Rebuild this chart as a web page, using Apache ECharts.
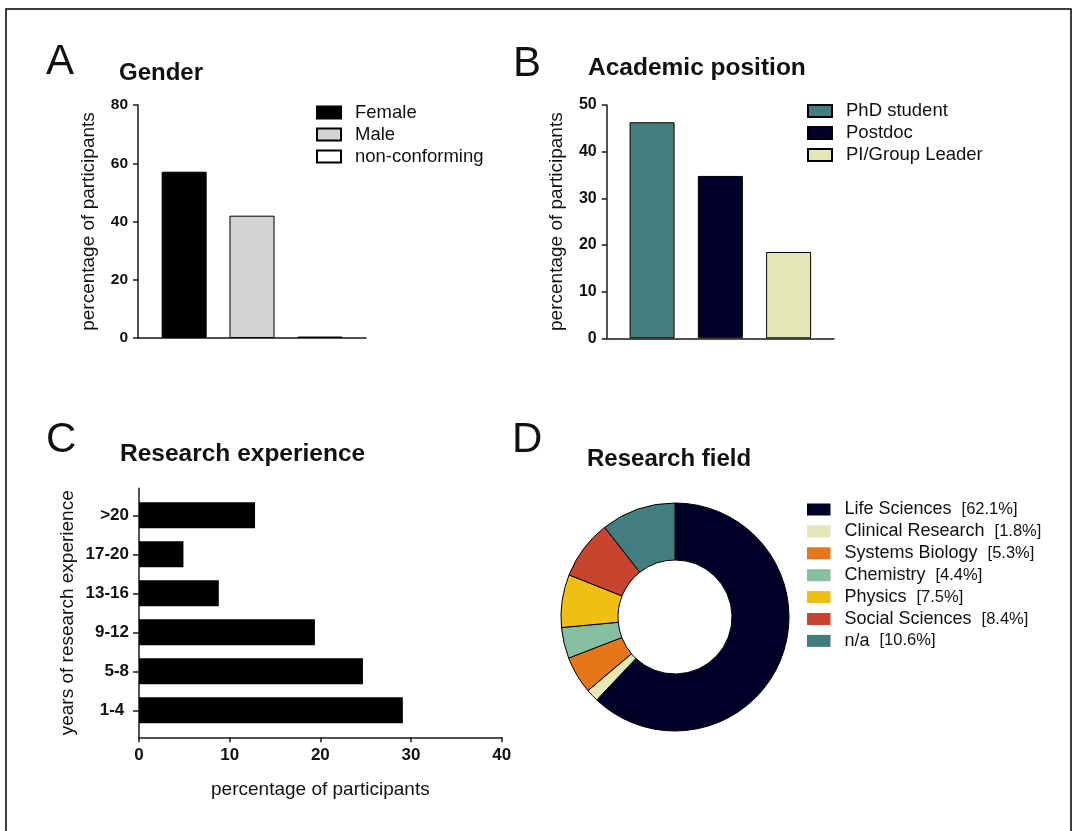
<!DOCTYPE html>
<html>
<head>
<meta charset="utf-8">
<script src="https://cdn.jsdelivr.net/npm/echarts@6/dist/echarts.min.js"></script>
<style>
  html, body { margin: 0; padding: 0; background: #fff; }
  #chart { width: 1078px; height: 831px; }
</style>
</head>
<body>
<div id="chart"></div>
<script>
const FONT = '"Liberation Sans", Arial, Helvetica, sans-serif';
const INK = '#1a1a1a';

// A: gender of participants (%)
const genderNames = ['Female', 'Male', 'non-conforming'];
const genderValues = [57.1, 42.0, 0.5];
const genderColors = ['#000000', '#d3d3d3', '#ffffff'];

// B: academic position (%)
const positionNames = ['PhD student', 'Postdoc', 'PI/Group Leader'];
const positionValues = [46.3, 34.8, 18.5];
const positionColors = ['#427e7d', '#000028', '#e5e7b8'];

// C: years of research experience (%), listed bottom to top
const experienceLabels = ['1-4 ', '5-8', '9-12', '13-16', '17-20', '>20'];
const experienceValues = [29.1, 24.7, 19.4, 8.8, 4.9, 12.8];

// D: research field (%)
const fieldNames = ['Life Sciences', 'Clinical Research', 'Systems Biology', 'Chemistry', 'Physics', 'Social Sciences', 'n/a'];
const fieldValues = [62.1, 1.8, 5.3, 4.4, 7.5, 8.4, 10.6];
const fieldColors = ['#000028', '#e5e7b8', '#e5761a', '#85bea0', '#f0bf14', '#c7442f', '#427e7d'];

const axisLineStyle = { color: INK, width: 1.5 };
const tickLabel = (size) => ({ color: '#111', fontFamily: FONT, fontWeight: 'bold', fontSize: size });
const nameStyle = { color: '#111', fontFamily: FONT, fontSize: 19 };

function barSeries(names, values, colors, axisIdx) {
  return names.map((n, i) => ({
    type: 'bar',
    name: n,
    xAxisIndex: axisIdx,
    yAxisIndex: axisIdx,
    data: [[i + 1, values[i]]],
    barWidth: 45,
    barGap: '-100%',
    itemStyle: { color: colors[i], borderColor: '#000', borderWidth: 1 },
    emphasis: { disabled: true },
    silent: true
  }));
}

function panelText(text, x, y, size, weight) {
  return {
    type: 'text', x: x, y: y, silent: true,
    style: { text: text, fill: '#111', fontFamily: FONT, fontSize: size, fontWeight: weight, verticalAlign: 'middle' }
  };
}

const legendBase = {
  orient: 'vertical',
  selectedMode: false,
  padding: 0,
  itemWidth: 24,
  itemHeight: 12,
  itemGap: 3,
  icon: 'rect',
  textStyle: { fontFamily: FONT, fontSize: 18.5, color: '#111', padding: [0, 0, 0, 9] }
};

const option = {
  animation: false,
  backgroundColor: '#fff',
  graphic: [
    { type: 'rect', silent: true, z: -10, shape: { x: 6, y: 9, width: 1065, height: 900 },
      style: { fill: 'none', stroke: '#000', lineWidth: 1.5 } },
    panelText('A', 46, 62, 42, 'normal'),
    panelText('Gender', 119, 73, 24, 'bold'),
    panelText('B', 513, 64, 42, 'normal'),
    panelText('Academic position', 588, 68, 24.5, 'bold'),
    panelText('C', 46, 440, 42, 'normal'),
    panelText('Research experience', 120, 454, 24.5, 'bold'),
    panelText('D', 512, 440, 42, 'normal'),
    panelText('Research field', 587, 459, 24, 'bold')
  ],
  legend: [
    Object.assign({}, legendBase, { left: 316, top: 103, data: genderNames }),
    Object.assign({}, legendBase, { left: 807, top: 101.5, data: positionNames }),
    Object.assign({}, legendBase, {
      left: 807, top: 500.5, itemWidth: 23.5, itemGap: 3.9, data: fieldNames,
      itemStyle: { borderWidth: 0 },
      formatter: (name) => {
        const i = fieldNames.indexOf(name);
        return name + '  {p|[' + fieldValues[i] + '%]}';
      },
      textStyle: Object.assign({}, legendBase.textStyle, {
        fontSize: 18,
        rich: { p: { fontFamily: FONT, fontSize: 16.5, color: '#111' } }
      })
    })
  ],
  grid: [
    { left: 138, top: 105, width: 228, height: 233 },
    { left: 606.7, top: 105, width: 227.3, height: 233.3 },
    { left: 139, top: 495.8, width: 362.7, height: 234 },
    { left: 139, top: 488.3, width: 362.7, height: 249 }
  ],
  xAxis: [
    { gridIndex: 0, type: 'value', min: 0.32, max: 3.68,
      axisLine: { show: true, onZero: false, lineStyle: axisLineStyle },
      axisTick: { show: false }, axisLabel: { show: false }, splitLine: { show: false } },
    { gridIndex: 1, type: 'value', min: 0.335, max: 3.665,
      axisLine: { show: true, onZero: false, lineStyle: axisLineStyle },
      axisTick: { show: false }, axisLabel: { show: false }, splitLine: { show: false } },
    { gridIndex: 2, type: 'value', min: 0, max: 40, interval: 10, offset: 7.5,
      axisLine: { show: true, onZero: false, lineStyle: axisLineStyle },
      axisTick: { show: true, length: 5, lineStyle: axisLineStyle },
      axisLabel: Object.assign({ margin: 10 }, tickLabel(17)),
      splitLine: { show: false },
      name: 'percentage of participants', nameLocation: 'middle', nameGap: 43, nameTextStyle: nameStyle },
    { gridIndex: 3, type: 'value', show: false, min: 0, max: 1 }
  ],
  yAxis: [
    { gridIndex: 0, type: 'value', min: 0, max: 80, interval: 20,
      axisLine: { show: true, onZero: false, lineStyle: axisLineStyle },
      axisTick: { show: true, length: 5, lineStyle: axisLineStyle },
      axisLabel: Object.assign({ margin: 10 }, tickLabel(15.5)),
      splitLine: { show: false },
      name: 'percentage of participants', nameLocation: 'middle', nameGap: 40, nameTextStyle: nameStyle },
    { gridIndex: 1, type: 'value', min: 0, max: 50, interval: 10,
      axisLine: { show: true, onZero: false, lineStyle: axisLineStyle },
      axisTick: { show: true, length: 5, lineStyle: axisLineStyle },
      axisLabel: Object.assign({ margin: 10 }, tickLabel(16)),
      splitLine: { show: false },
      name: 'percentage of participants', nameLocation: 'middle', nameGap: 40, nameTextStyle: nameStyle },
    { gridIndex: 2, type: 'category', data: experienceLabels,
      axisLine: { show: false },
      axisTick: { show: true, alignWithLabel: true, length: 6, lineStyle: axisLineStyle },
      axisLabel: Object.assign({ margin: 10 }, tickLabel(17)),
      splitLine: { show: false } },
    { gridIndex: 3, type: 'value', min: 0, max: 1,
      axisLine: { show: true, onZero: false, lineStyle: axisLineStyle },
      axisTick: { show: false }, axisLabel: { show: false }, splitLine: { show: false },
      name: 'years of research experience', nameLocation: 'middle', nameGap: 62, nameTextStyle: nameStyle }
  ],
  series: [
    ...barSeries(genderNames, genderValues, genderColors, 0),
    ...barSeries(positionNames, positionValues, positionColors, 1),
    {
      type: 'bar', name: 'Research experience', xAxisIndex: 2, yAxisIndex: 2,
      data: experienceValues, barWidth: 26,
      itemStyle: { color: '#000' }, emphasis: { disabled: true }, silent: true
    },
    {
      type: 'pie', name: 'Research field',
      center: [675, 617], radius: [57, 114], startAngle: 90, clockwise: true,
      label: { show: false }, labelLine: { show: false },
      itemStyle: { borderColor: '#000', borderWidth: 1 },
      emphasis: { disabled: true }, silent: true,
      data: fieldNames.map((n, i) => ({ name: n, value: fieldValues[i], itemStyle: { color: fieldColors[i] } }))
    }
  ]
};

const chart = echarts.init(document.getElementById('chart'), null, { renderer: 'canvas' });
chart.setOption(option);
</script>
</body>
</html>
